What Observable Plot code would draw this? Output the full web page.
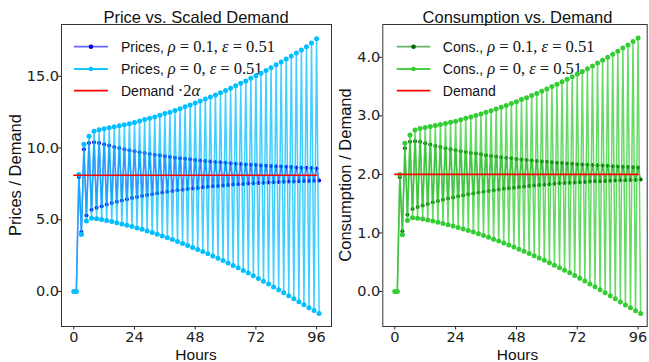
<!DOCTYPE html>
<html>
<head>
<meta charset="utf-8">
<script src="https://cdn.jsdelivr.net/npm/d3@7"></script>
<script src="https://cdn.jsdelivr.net/npm/@observablehq/plot@0.6"></script>
<style>
  html, body { margin: 0; padding: 0; background: #fff; }
  #wrap { display: flex; width: 649px; height: 362px; overflow: hidden; }
  svg { display: block; }
</style>
</head>
<body>
<div id="wrap"></div>
<script>
// ---------- data ----------
const hours = d3.range(0, 98);
const xTicks = [0, 24, 48, 72, 96];
const priceTicks = [0, 5, 10, 15];
const consTicks = [0, 1, 2, 3, 4];

// Prices, rho = 0.1 : hours 0..3, then highs at even hours 4..96, lows at odd hours 5..97
const priceStartRho01 = [0, 0, 7.98, 4.15];
const priceHighRho01 = [9.91, 10.35, 10.40, 10.35, 10.26, 10.17, 10.07, 10.00, 9.91, 9.84,
  9.77, 9.70, 9.65, 9.58, 9.54, 9.49, 9.42, 9.37, 9.33, 9.29,
  9.25, 9.21, 9.17, 9.13, 9.10, 9.06, 9.03, 9.00, 8.97, 8.94,
  8.91, 8.89, 8.86, 8.84, 8.81, 8.79, 8.77, 8.75, 8.73, 8.71,
  8.69, 8.67, 8.65, 8.63, 8.62, 8.60, 8.58];
const priceLowRho01 = [5.30, 5.70, 5.84, 5.95, 6.06, 6.17, 6.26, 6.35, 6.43, 6.51,
  6.58, 6.65, 6.72, 6.78, 6.84, 6.90, 6.95, 7.00, 7.05, 7.10,
  7.14, 7.18, 7.22, 7.26, 7.30, 7.33, 7.36, 7.39, 7.42, 7.45,
  7.48, 7.50, 7.52, 7.54, 7.56, 7.58, 7.60, 7.62, 7.63, 7.65,
  7.66, 7.67, 7.69, 7.70, 7.71, 7.72, 7.74];

// Prices, rho = 0
const priceStartRho0 = [0, 0, 8.16, 3.98];
const priceHighRho0 = [10.26, 10.82, 11.17, 11.28, 11.35, 11.42, 11.48, 11.55, 11.62, 11.70,
  11.78, 11.88, 11.98, 12.07, 12.17, 12.28, 12.40, 12.50, 12.62, 12.74,
  12.87, 13.00, 13.13, 13.27, 13.41, 13.55, 13.70, 13.85, 14.01, 14.17,
  14.34, 14.51, 14.68, 14.86, 15.04, 15.22, 15.41, 15.60, 15.80, 16.00,
  16.20, 16.41, 16.62, 16.84, 17.06, 17.32, 17.62];
const priceLowRho0 = [4.91, 5.10, 5.07, 5.01, 4.94, 4.87, 4.79, 4.71, 4.62, 4.53,
  4.43, 4.33, 4.22, 4.11, 3.99, 3.87, 3.75, 3.62, 3.49, 3.35,
  3.21, 3.07, 2.93, 2.78, 2.63, 2.48, 2.32, 2.16, 1.99, 1.82,
  1.65, 1.47, 1.29, 1.10, 0.91, 0.72, 0.52, 0.32, 0.12, -0.09,
  -0.30, -0.51, -0.72, -0.93, -1.13, -1.33, -1.53];

// Consumption, rho = 0.1
const consStartRho01 = [0, 0, 1.95, 1.03];
const consHighRho01 = [2.447, 2.556, 2.568, 2.556, 2.533, 2.511, 2.486, 2.469, 2.447, 2.430,
  2.412, 2.395, 2.383, 2.365, 2.356, 2.343, 2.326, 2.314, 2.304, 2.294,
  2.284, 2.274, 2.264, 2.254, 2.247, 2.237, 2.230, 2.222, 2.215, 2.207,
  2.200, 2.195, 2.188, 2.183, 2.175, 2.170, 2.165, 2.160, 2.156, 2.151,
  2.146, 2.141, 2.136, 2.131, 2.128, 2.123, 2.119];
const consLowRho01 = [1.309, 1.407, 1.442, 1.469, 1.496, 1.523, 1.546, 1.568, 1.588, 1.607,
  1.625, 1.642, 1.659, 1.674, 1.689, 1.704, 1.716, 1.728, 1.741, 1.753,
  1.763, 1.773, 1.783, 1.793, 1.802, 1.810, 1.817, 1.825, 1.832, 1.840,
  1.847, 1.852, 1.857, 1.862, 1.867, 1.872, 1.877, 1.881, 1.884, 1.889,
  1.891, 1.894, 1.899, 1.901, 1.904, 1.906, 1.911];

// Consumption, rho = 0
const consStartRho0 = [0, 0, 2.0, 0.97];
const consHighRho0 = [2.533, 2.672, 2.758, 2.785, 2.802, 2.820, 2.835, 2.852, 2.869, 2.889,
  2.909, 2.933, 2.958, 2.980, 3.005, 3.032, 3.062, 3.086, 3.116, 3.146,
  3.178, 3.210, 3.242, 3.277, 3.311, 3.346, 3.383, 3.420, 3.459, 3.499,
  3.541, 3.583, 3.625, 3.669, 3.714, 3.758, 3.805, 3.852, 3.901, 3.951,
  4.000, 4.052, 4.104, 4.158, 4.212, 4.270, 4.330];
const consLowRho0 = [1.212, 1.259, 1.252, 1.237, 1.220, 1.202, 1.183, 1.163, 1.141, 1.119,
  1.094, 1.069, 1.042, 1.015, 0.985, 0.956, 0.926, 0.894, 0.862, 0.827,
  0.793, 0.758, 0.723, 0.686, 0.649, 0.612, 0.573, 0.533, 0.491, 0.449,
  0.407, 0.363, 0.319, 0.272, 0.225, 0.178, 0.128, 0.079, 0.030, -0.022,
  -0.074, -0.126, -0.178, -0.230, -0.279, -0.328, -0.378];

const demandHours = [0, 96];
const demandPrice = 8.1;   // Demand * 2 alpha
const demandCons = 2.0;

// ---------- build tables ----------
function series(start, highs, lows) {
  const ys = start.slice();
  for (let i = 0; i < highs.length; i++) ys.push(highs[i], lows[i]);
  return ys.map((v, i) => ({hour: hours[i], value: v}));
}
const demandRows = v => demandHours.map(h => ({hour: h, value: v}));

const SANS = "'Liberation Sans', Arial, sans-serif";
const SERIF = "'Liberation Serif', 'DejaVu Serif', serif";

function panel(cfg) {
  const svg = Plot.plot({
    width: cfg.width, height: 362,
    marginLeft: cfg.ml, marginRight: cfg.mr, marginTop: 24, marginBottom: 36,
    style: {fontFamily: "'DejaVu Sans', sans-serif", fontSize: "14.5px", color: "#222", background: "#fff", overflow: "visible"},
    x: {domain: cfg.xDomain, ticks: xTicks, tickFormat: d => String(d), tickSize: 3.5, tickPadding: 2, label: null},
    y: {domain: cfg.yDomain, ticks: cfg.yTicks, tickFormat: d3.format(".1f"), tickSize: 3.5, tickPadding: -1, label: null},
    marks: [
      Plot.line(cfg.s1, {x: "hour", y: "value", stroke: cfg.c1line, strokeOpacity: 0.6, strokeWidth: 1.5}),
      Plot.dot(cfg.s1, {x: "hour", y: "value", fill: cfg.c1dot, r: 2, stroke: null}),
      Plot.line(cfg.s0, {x: "hour", y: "value", stroke: cfg.c0, strokeOpacity: 0.75, strokeWidth: 1.5}),
      Plot.dot(cfg.s0, {x: "hour", y: "value", fill: cfg.c0, r: 2.5, stroke: null}),
      Plot.line(cfg.dem, {x: "hour", y: "value", stroke: "red", strokeWidth: 1.6}),
      Plot.frame({stroke: "#333", strokeWidth: 1})
    ]
  });
  const s = d3.select(svg);
  const fx0 = cfg.ml;
  const cx = cfg.labelCx;
  // title
  s.append("text").attr("x", cx).attr("y", 22.5).attr("text-anchor", "middle")
    .style("font-family", SANS).style("font-size", "16.5px").attr("fill", "#111").text(cfg.title);
  // x label
  s.append("text").attr("x", cx).attr("y", 360).attr("text-anchor", "middle")
    .style("font-family", SANS).style("font-size", "15.5px").attr("fill", "#111").text("Hours");
  // y label
  s.append("text").attr("transform", `translate(${cfg.ylx},175) rotate(-90)`).attr("text-anchor", "middle")
    .style("font-family", SANS).style("font-size", "16.5px").attr("fill", "#111").text(cfg.ylabel);

  // legend (transparent, drawn beneath the data)
  const lg = s.append("g").attr("text-anchor", "start");
  const rows = [46.7, 69, 90.7];
  const lx0 = fx0 + cfg.legX0, lx1 = fx0 + cfg.legX1, tx = fx0 + cfg.legTx;
  cfg.legend.forEach((item, i) => {
    const y = rows[i];
    lg.append("line").attr("x1", lx0).attr("x2", lx1).attr("y1", y).attr("y2", y)
      .attr("stroke", item.line).attr("stroke-opacity", item.op).attr("stroke-width", 1.8);
    if (item.dot) lg.append("circle").attr("cx", (lx0 + lx1) / 2).attr("cy", y).attr("r", 2.3).attr("fill", item.dot);
    const t = lg.append("text").attr("x", tx).attr("y", y + 5).attr("fill", "#111")
      .attr("text-anchor", "start")
      .style("font-family", SANS).style("font-size", "14px");
    item.parts.forEach(p => {
      const ts = t.append("tspan").text(p.t);
      if (p.m) ts.style("font-family", SERIF).style("font-size", "16.5px");
      if (p.i) ts.style("font-style", "italic");
    });
  });
  const firstLine = svg.querySelector('[aria-label="line"]');
  if (firstLine) svg.insertBefore(lg.node(), firstLine);
  return svg;
}

const mathParts = (name, rho) => [
  {t: name + ", "},
  {t: "ρ", m: true, i: true}, {t: " = " + rho + ", ", m: true},
  {t: "ε", m: true, i: true}, {t: " = 0.51", m: true}
];

const left = panel({
  width: 335, ml: 61, mr: 4,
  xDomain: [-4.87, 101.9], yDomain: [-2.44, 18.61], yTicks: priceTicks,
  s1: series(priceStartRho01, priceHighRho01, priceLowRho01),
  s0: series(priceStartRho0, priceHighRho0, priceLowRho0),
  dem: demandRows(demandPrice),
  c1line: "blue", c1dot: "#0000e0", c0: "#00bfff",
  title: "Price vs. Scaled Demand", ylabel: "Prices / Demand", labelCx: 196, ylx: 21,
  legX0: 13, legX1: 47, legTx: 60,
  legend: [
    {line: "blue", op: 0.6, dot: "#0000e0", parts: mathParts("Prices", "0.1")},
    {line: "#00bfff", op: 0.9, dot: "#00bfff", parts: mathParts("Prices", "0")},
    {line: "red", op: 1, dot: null, parts: [{t: "Demand "}, {t: "·2", m: true}, {t: "α", m: true, i: true}]}
  ]
});

const right = panel({
  width: 314, ml: 47.3, mr: 2.3,
  xDomain: [-4.73, 99.6], yDomain: [-0.598, 4.56], yTicks: consTicks,
  s1: series(consStartRho01, consHighRho01, consLowRho01),
  s0: series(consStartRho0, consHighRho0, consLowRho0),
  dem: demandRows(demandCons),
  c1line: "green", c1dot: "#006400", c0: "limegreen",
  title: "Consumption vs. Demand", ylabel: "Consumption / Demand", labelCx: 182.5, ylx: 16,
  legX0: 14.5, legX1: 48, legTx: 60.5,
  legend: [
    {line: "green", op: 0.6, dot: "#006400", parts: mathParts("Cons.", "0.1")},
    {line: "limegreen", op: 0.9, dot: "limegreen", parts: mathParts("Cons.", "0")},
    {line: "red", op: 1, dot: null, parts: [{t: "Demand"}]}
  ]
});

document.getElementById("wrap").append(left, right);
</script>
</body>
</html>
